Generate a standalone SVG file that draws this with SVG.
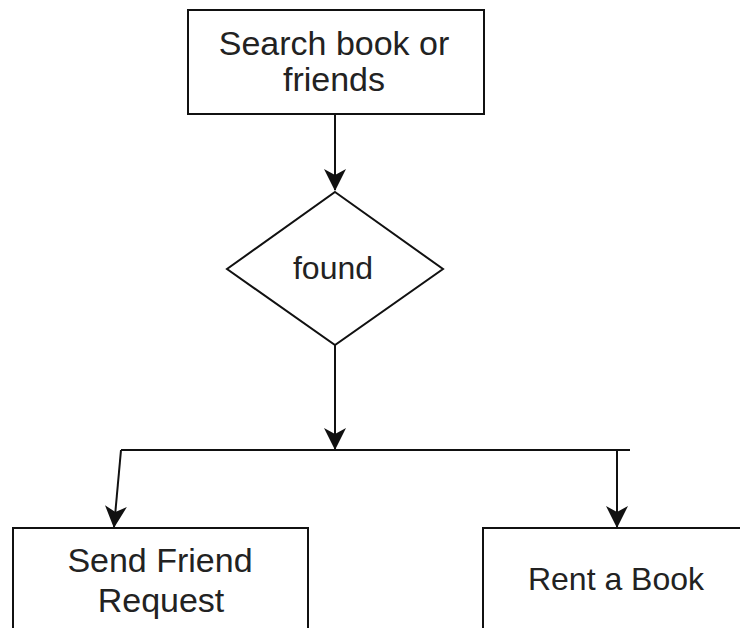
<svg xmlns="http://www.w3.org/2000/svg" width="740" height="628" viewBox="0 0 740 628">
<style>
.box{fill:#fff;stroke:#111;stroke-width:2}
.lbl{font-family:"Liberation Sans",Arial,sans-serif;font-size:34px;fill:#222;text-anchor:middle}
.sm{font-size:32px}
.edge{fill:none;stroke:#111;stroke-width:2}
</style>
<defs>
<marker id="arr" markerUnits="userSpaceOnUse" viewBox="0 0 22 22" refX="21" refY="11" markerWidth="22" markerHeight="22" orient="auto">
<path d="M0,0 L22,11 L0,22 L6,11 Z" fill="#111"/>
</marker>
</defs>
<rect width="740" height="628" fill="#fff"/>
<g id="search">
<rect class="box" x="188" y="10" width="296" height="104"/>
<text class="lbl" x="334" y="55">Search book or</text>
<text class="lbl" x="334" y="91">friends</text>
</g>
<g id="found">
<polygon class="box" points="335,192 443,269 335,345 227,269"/>
<text class="lbl sm" x="333" y="279">found</text>
</g>
<g id="send">
<rect class="box" x="13" y="528" width="295" height="110"/>
<text class="lbl" x="160" y="572">Send Friend</text>
<text class="lbl" x="161" y="612">Request</text>
</g>
<g id="rent">
<rect class="box" x="483" y="528" width="280" height="110"/>
<text class="lbl sm" x="616" y="590">Rent a Book</text>
</g>
<g id="connectors">
<line class="edge" x1="335" y1="114" x2="335" y2="190" marker-end="url(#arr)"/>
<line class="edge" x1="335" y1="345" x2="335" y2="449" marker-end="url(#arr)"/>
<line class="edge" x1="121" y1="450" x2="630" y2="450"/>
<line class="edge" x1="121" y1="450" x2="114" y2="527" marker-end="url(#arr)"/>
<line class="edge" x1="617" y1="450" x2="617" y2="527" marker-end="url(#arr)"/>
</g>
</svg>
